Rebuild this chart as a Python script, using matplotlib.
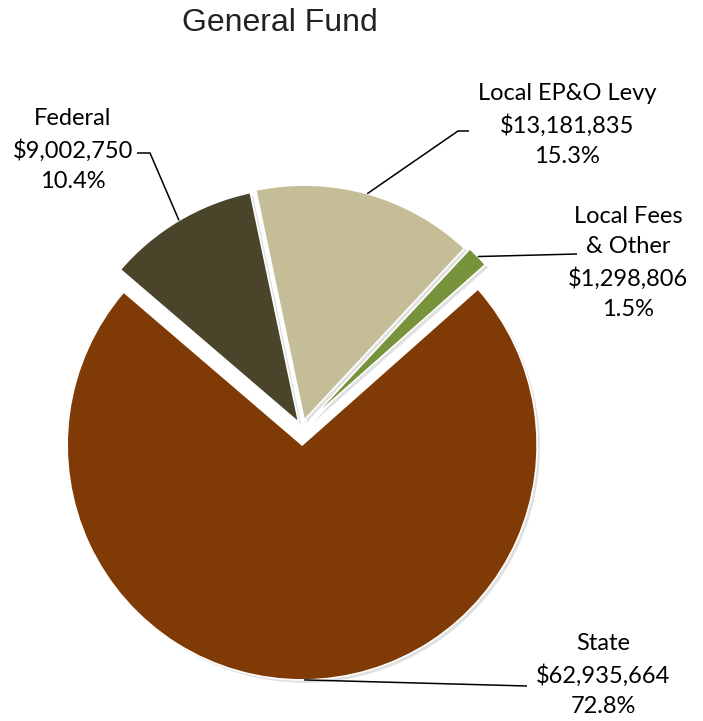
import numpy as np
import matplotlib
matplotlib.use("Agg")
import matplotlib.pyplot as plt
import matplotlib.patheffects as pe

# ---- data ----
categories = ["Federal", "Local EP&O Levy", "Local Fees\n& Other", "State"]
amounts = [9002750, 13181835, 1298806, 62935664]
percent_labels = ["10.4%", "15.3%", "1.5%", "72.8%"]
colors = ["#4A452A", "#C4BD97", "#77933C", "#7F3A05"]
explode = [0.027, 0.035, 0.045, 0.072]

W, H = 703, 721
R_PX = 235.0
CX, CY = 302.0, 428.0

def px(x, y):
    return ((x - CX) / R_PX, (CY - y) / R_PX)

fig = plt.figure(figsize=(W / 100, H / 100), dpi=100)
ax = fig.add_axes([0, 0, 1, 1])

wedges, _ = ax.pie(amounts, colors=colors, explode=explode, startangle=139.4,
                   counterclock=False, radius=1.0, center=(0, 0),
                   wedgeprops=dict(edgecolor="white", linewidth=1.2))
for w in wedges:
    w.set_path_effects([pe.SimplePatchShadow(offset=(2, -2), shadow_rgbFace="#999999", alpha=0.3),
                        pe.Normal()])

ax.set_xlim(px(0, 0)[0], px(W, 0)[0])
ax.set_ylim(px(0, H)[1], px(0, 0)[1])
ax.set_aspect("equal", adjustable="datalim")
ax.axis("off")

font = dict(family=["Lato", "DejaVu Sans"], fontsize=17, color="black")

label_texts = [f"{c}\n${a:,.0f}\n{p}" for c, a, p in zip(categories, amounts, percent_labels)]
label_pos = [(73, 150), (567, 125), (628, 263), (603, 675)]
# leader line path points after the wedge edge (pixels)
leader_paths = [[(150, 153), (137, 153)],
                [(458, 131), (469, 131)],
                [(577, 254)],
                [(527, 686)]]

for w, txt, pos, path in zip(wedges, label_texts, label_pos, leader_paths):
    ang = np.deg2rad((w.theta1 + w.theta2) / 2)
    cx, cy = w.center
    x0 = cx + w.r * np.cos(ang)
    y0 = cy + w.r * np.sin(ang)
    xs = [x0] + [px(*p)[0] for p in path]
    ys = [y0] + [px(*p)[1] for p in path]
    ax.plot(xs, ys, color="black", lw=1.1, solid_capstyle="butt")
    tx, ty = px(*pos)
    ax.text(tx, ty, txt, ha="center", va="center", linespacing=1.55, **font)

tx, ty = px(280, 23)
ax.text(tx, ty, "General Fund", ha="center", va="center",
        family=["Liberation Sans", "DejaVu Sans"], fontsize=23, color="#222222")

fig.savefig("out.png", dpi=100, facecolor="white")
